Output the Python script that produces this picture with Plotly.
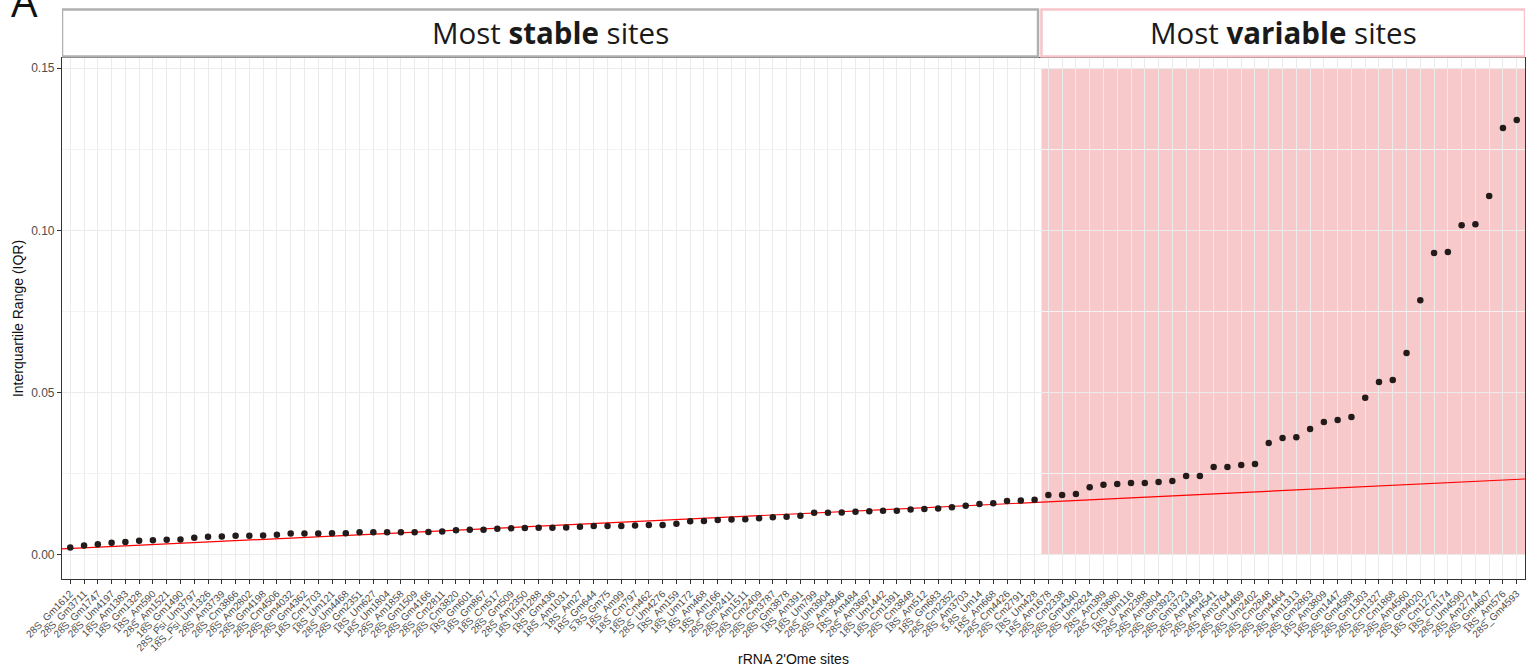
import numpy as np
import plotly.graph_objects as go

# rRNA 2'Ome sites, ordered by IQR
sites = [
    "28S_Gm1612", "28S_Gm3711", "28S_Gm1747", "28S_Um4197", "18S_Am1383", "18S_Gm1328",
    "18S_Am590", "28S_Am1521", "18S_Gm1490", "28S_Psi_Um3797", "18S_Psi_Um1326", "28S_Am3739",
    "28S_Cm3866", "28S_Am2802", "28S_Gm4198", "28S_Cm4506", "28S_Gm4032", "28S_Gm4362",
    "18S_Cm1703", "18S_Um121", "28S_Um4468", "28S_Gm2351", "18S_Um627", "18S_Um1804",
    "28S_Am1858", "28S_Gm1509", "28S_Gm4166", "28S_Cm2811", "28S_Cm3820", "18S_Gm601",
    "18S_Gm867", "18S_Cm517", "28S_Gm509", "28S_Am2350", "18S_Um1288", "18S_Gm436",
    "18S_Am1031", "18S_Am27", "18S_Gm644", "5.8S_Gm75", "18S_Am99", "18S_Cm797",
    "18S_Cm462", "28S_Um4276", "18S_Am159", "18S_Um172", "18S_Am468", "18S_Am166",
    "28S_Gm2411", "28S_Am1511", "28S_Cm2409", "28S_Cm3787", "28S_Gm3878", "18S_Am391",
    "18S_Um799", "28S_Um3904", "28S_Am3846", "18S_Am484", "28S_Am3697", "18S_Um1442",
    "18S_Cm1391", "28S_Cm3848", "18S_Am512", "18S_Gm683", "28S_Cm2352", "28S_Am3703",
    "5.8S_Um14", "18S_Am668", "28S_Cm4426", "28S_Cm2791", "18S_Um428", "18S_Am1678",
    "28S_Cm2338", "28S_Gm4340", "28S_Um2824", "28S_Am389", "28S_Cm3680", "18S_Um116",
    "28S_Am2388", "28S_Am3804", "28S_Gm3923", "28S_Gm3723", "28S_Am4493", "28S_Am4541",
    "28S_Am3764", "28S_Gm4469", "28S_Um2402", "28S_Cm2848", "28S_Gm4464", "28S_Am1313",
    "28S_Gm2863", "18S_Am3809", "18S_Gm1447", "28S_Gm4588", "28S_Gm1303", "28S_Cm1327",
    "28S_Cm1868", "28S_Am4560", "28S_Gm4020", "18S_Cm1272", "18S_Cm174", "28S_Um4590",
    "28S_Am2774", "28S_Gm4607", "18S_Am576", "28S_Gm4593",
]

iqr = [
    0.0023, 0.0029, 0.0033, 0.0038, 0.0040, 0.0044, 0.0045, 0.0047, 0.0048, 0.0053,
    0.0056, 0.0057, 0.0059, 0.0059, 0.0060, 0.0062, 0.0066, 0.0066, 0.0066, 0.0067,
    0.0067, 0.0070, 0.0070, 0.0070, 0.0070, 0.0070, 0.0071, 0.0072, 0.0076, 0.0078,
    0.0078, 0.0081, 0.0082, 0.0083, 0.0084, 0.0084, 0.0085, 0.0087, 0.0089, 0.0089,
    0.0089, 0.0091, 0.0092, 0.0092, 0.0096, 0.0104, 0.0105, 0.0108, 0.0109, 0.0110,
    0.0113, 0.0116, 0.0118, 0.0121, 0.0130, 0.0130, 0.0131, 0.0133, 0.0135, 0.0136,
    0.0136, 0.0140, 0.0142, 0.0143, 0.0147, 0.0152, 0.0157, 0.0159, 0.0166, 0.0168,
    0.0170,
    0.0185, 0.0185, 0.0188, 0.0209, 0.0216, 0.0219, 0.0222, 0.0222, 0.0225, 0.0228,
    0.0243, 0.0243, 0.0271, 0.0271, 0.0277, 0.0280, 0.0345, 0.0360, 0.0363, 0.0388,
    0.0410, 0.0416, 0.0425, 0.0484, 0.0533, 0.0539, 0.0622, 0.0785, 0.0930, 0.0933,
    0.1016, 0.1019, 0.1106, 0.1315, 0.1340,
]

n_stable = 71          # first 71 sites = most stable, rest = most variable
shade_top = 0.15

# red reference trend
trend_intercept = 0.00177
trend_slope = 0.000203

x = np.arange(1, len(sites) + 1)
xr = [0.4, len(sites) + 0.6]

line_x = np.array(xr)
line_y = trend_intercept + trend_slope * line_x

fig = go.Figure()
fig.add_trace(go.Scatter(x=line_x, y=line_y, mode="lines",
                         line=dict(color="#ff0000", width=1.2), hoverinfo="skip"))
fig.add_trace(go.Scatter(x=x, y=iqr, mode="markers", text=sites,
                         marker=dict(color="#231a1a", size=6.5)))

# shaded variable region
fig.add_shape(type="rect", xref="x", yref="y", x0=n_stable + 0.5, x1=xr[1], y0=0, y1=shade_top,
              fillcolor="#f7c9cb", line=dict(width=0), layer="below")

# header boxes
box_y0, box_y1 = 1.003, 1.093
fig.add_shape(type="rect", xref="x", yref="paper", x0=xr[0], x1=n_stable + 0.25, y0=box_y0, y1=box_y1,
              fillcolor="white", line=dict(color="#b0b0b0", width=2.5))
fig.add_shape(type="rect", xref="x", yref="paper", x0=n_stable + 0.5, x1=xr[1], y0=box_y0, y1=box_y1,
              fillcolor="white", line=dict(color="#f6c4c9", width=2.5))
fig.add_annotation(x=(xr[0] + n_stable + 0.25) / 2, y=(box_y0 + box_y1) / 2, xref="x", yref="paper",
                   text="Most <b>stable</b> sites", showarrow=False, yanchor="middle",
                   font=dict(family="Open Sans", size=29.5, color="#1a1a1a"))
fig.add_annotation(x=(n_stable + 0.5 + xr[1]) / 2, y=(box_y0 + box_y1) / 2, xref="x", yref="paper",
                   text="Most <b>variable</b> sites", showarrow=False, yanchor="middle",
                   font=dict(family="Open Sans", size=29.5, color="#1a1a1a"))
fig.add_annotation(x=-0.036, y=1.111, xref="paper", yref="paper", text="A", showarrow=False,
                   xanchor="left", yanchor="middle",
                   font=dict(family="Open Sans", size=42, color="#111111"))

fig.update_layout(
    width=1533, height=671,
    margin=dict(l=62, r=8, t=58, b=92),
    plot_bgcolor="white", paper_bgcolor="white",
    showlegend=False,
    font=dict(family="Liberation Sans, Arial", color="#4d4d4d"),
)
fig.update_xaxes(
    range=xr, tickmode="array", tickvals=x, ticktext=sites, tickangle=-45,
    tickfont=dict(size=10, color="#4d4d4d"), automargin=False,
    showgrid=True, gridcolor="#ebebeb", gridwidth=1,
    ticks="outside", ticklen=4, tickcolor="#333333",
    showline=True, linecolor="#333333", linewidth=1.2, mirror=True,
    zeroline=False,
    title=dict(text="rRNA 2'Ome sites", font=dict(size=14, color="#111111"), standoff=2),
)
fig.update_yaxes(
    range=[-0.0074, 0.1531], tickmode="array", tickvals=[0, 0.05, 0.10, 0.15],
    ticktext=["0.00", "0.05", "0.10", "0.15"],
    tickfont=dict(size=12, color="#4d4d4d"), automargin=False,
    showgrid=True, gridcolor="#ebebeb", gridwidth=1,
    minor=dict(tickvals=[0.025, 0.075, 0.125], showgrid=True, gridcolor="#f3f3f3", gridwidth=1),
    ticks="outside", ticklen=4, tickcolor="#333333",
    showline=True, linecolor="#333333", linewidth=1.2, mirror=True,
    zeroline=False,
    title=dict(text="Interquartile Range (IQR)", font=dict(size=14, color="#111111"), standoff=4),
)

# the page body has a default 8px margin; drop it so the figure fills the window
fig.write_html("out.html", config={"displayModeBar": False},
               post_script="document.body.style.margin='0';")
